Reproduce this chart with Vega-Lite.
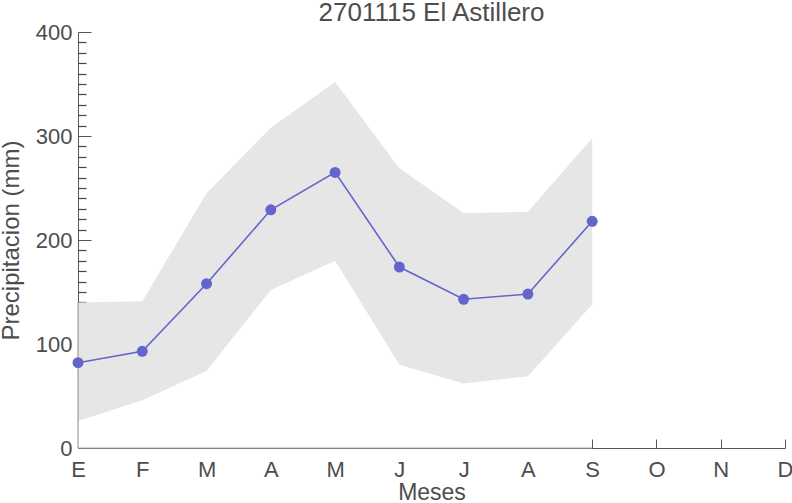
{
  "$schema": "https://vega.github.io/schema/vega-lite/v6.json",
  "autosize": "none",
  "width": 707,
  "height": 416,
  "padding": {"left": 78, "top": 32, "right": 7, "bottom": 55},
  "background": "white",
  "title": {"text": "2701115 El Astillero", "font": "Liberation Sans", "fontSize": 26, "fontWeight": "normal", "color": "#4d4d4d", "frame": "group", "anchor": "middle", "offset": -5},
  "config": {
    "view": {"stroke": null},
    "axis": {"labelFont": "Liberation Sans", "titleFont": "Liberation Sans", "labelColor": "#4d4d4d", "titleColor": "#4d4d4d", "domainColor": "#555555", "tickColor": "#555555", "grid": false, "titleFontWeight": "normal"}
  },
  "data": {"values": [
    {"mes": "E", "media": 82, "inf": 26, "sup": 140},
    {"mes": "F", "media": 93, "inf": 46, "sup": 141},
    {"mes": "M", "media": 158, "inf": 74, "sup": 245},
    {"mes": "A", "media": 229, "inf": 152, "sup": 308},
    {"mes": "M2", "media": 265, "inf": 180, "sup": 352},
    {"mes": "J", "media": 174, "inf": 80, "sup": 269},
    {"mes": "J2", "media": 143, "inf": 62, "sup": 226},
    {"mes": "A2", "media": 148, "inf": 69, "sup": 227},
    {"mes": "S", "media": 218, "inf": 138, "sup": 298}
  ]},
  "layer": [
    {
      "mark": {"type": "area", "color": "white", "opacity": 1},
      "encoding": {
        "x": {"field": "mes", "type": "ordinal", "scale": {"type": "point", "padding": 0, "domain": ["E", "F", "M", "A", "M2", "J", "J2", "A2", "S", "O", "N", "D"]},
          "axis": {"orient": "bottom", "title": "Meses", "titleFontSize": 23, "titlePadding": 1, "labelFontSize": 22, "labelAngle": 0, "labelPadding": 11, "ticks": false, "domainColor": "#555555",
            "labelExpr": "replace(datum.value, '2', '')"}},
        "y": {"field": "inf", "type": "quantitative", "scale": {"domain": [0, 400], "nice": false, "zero": false},
          "axis": {"orient": "left", "title": "Precipitacion (mm)", "titleFontSize": 24, "titleX": -60, "titleBaseline": "alphabetic", "labelFontSize": 22, "labelOverlap": false,
            "values": [0, 100, 200, 300, 400], "tickSize": -13, "labelPadding": 19}},
        "y2": {"datum": 0}
      }
    },
    {
      "mark": {"type": "point", "opacity": 0},
      "encoding": {
        "x": {"field": "mes", "type": "ordinal", "axis": null},
        "y": {"field": "media", "type": "quantitative", "axis": {"orient": "left", "values": [10, 20, 30, 40, 50, 60, 70, 80, 90, 110, 120, 130, 140, 150, 160, 170, 180, 190, 210, 220, 230, 240, 250, 260, 270, 280, 290, 310, 320, 330, 340, 350, 360, 370, 380, 390], "tickSize": -8, "tickWidth": 1.2, "tickColor": "#444444", "tickOpacity": 1, "ticks": true, "labels": false, "domain": false, "title": null}}
      }
    },
    {
      "mark": {"type": "area", "color": "#e6e6e6", "opacity": 1},
      "encoding": {
        "x": {"field": "mes", "type": "ordinal", "axis": null},
        "y": {"field": "inf", "type": "quantitative", "axis": null},
        "y2": {"field": "sup"}
      }
    },
    {
      "transform": [{"filter": "datum.mes == 'E' || datum.mes == 'S'"}, {"aggregate": [{"op": "min", "field": "mes", "as": "ini"}, {"op": "max", "field": "mes", "as": "fin"}]}],
      "mark": {"type": "rule", "color": "#b0b0b0", "strokeWidth": 1},
      "encoding": {
        "x": {"field": "ini", "type": "ordinal", "axis": null},
        "x2": {"field": "fin"},
        "y": {"datum": 0, "type": "quantitative", "axis": null}
      }
    },
    {
      "transform": [{"filter": "datum.mes == 'E'"}],
      "mark": {"type": "rule", "color": "#8a8a8a", "strokeWidth": 1},
      "encoding": {
        "x": {"field": "mes", "type": "ordinal", "axis": null},
        "y": {"field": "sup", "type": "quantitative", "axis": null},
        "y2": {"datum": 0}
      }
    },
    {
      "mark": {"type": "point", "opacity": 0},
      "encoding": {
        "x": {"field": "mes", "type": "ordinal", "axis": {"orient": "bottom", "values": ["S", "O", "N", "D"], "tickSize": -9, "labels": false, "domain": false, "title": null, "zindex": 1}},
        "y": {"field": "media", "type": "quantitative", "axis": null}
      }
    },
    {
      "mark": {"type": "line", "color": "#6464cc", "strokeWidth": 1.6},
      "encoding": {
        "x": {"field": "mes", "type": "ordinal", "axis": null},
        "y": {"field": "media", "type": "quantitative", "axis": null}
      }
    },
    {
      "mark": {"type": "circle", "color": "#6464cc", "opacity": 1, "size": 120},
      "encoding": {
        "x": {"field": "mes", "type": "ordinal", "axis": null},
        "y": {"field": "media", "type": "quantitative", "axis": null}
      }
    }
  ],
  "resolve": {"axis": {"x": "independent", "y": "independent"}}
}
